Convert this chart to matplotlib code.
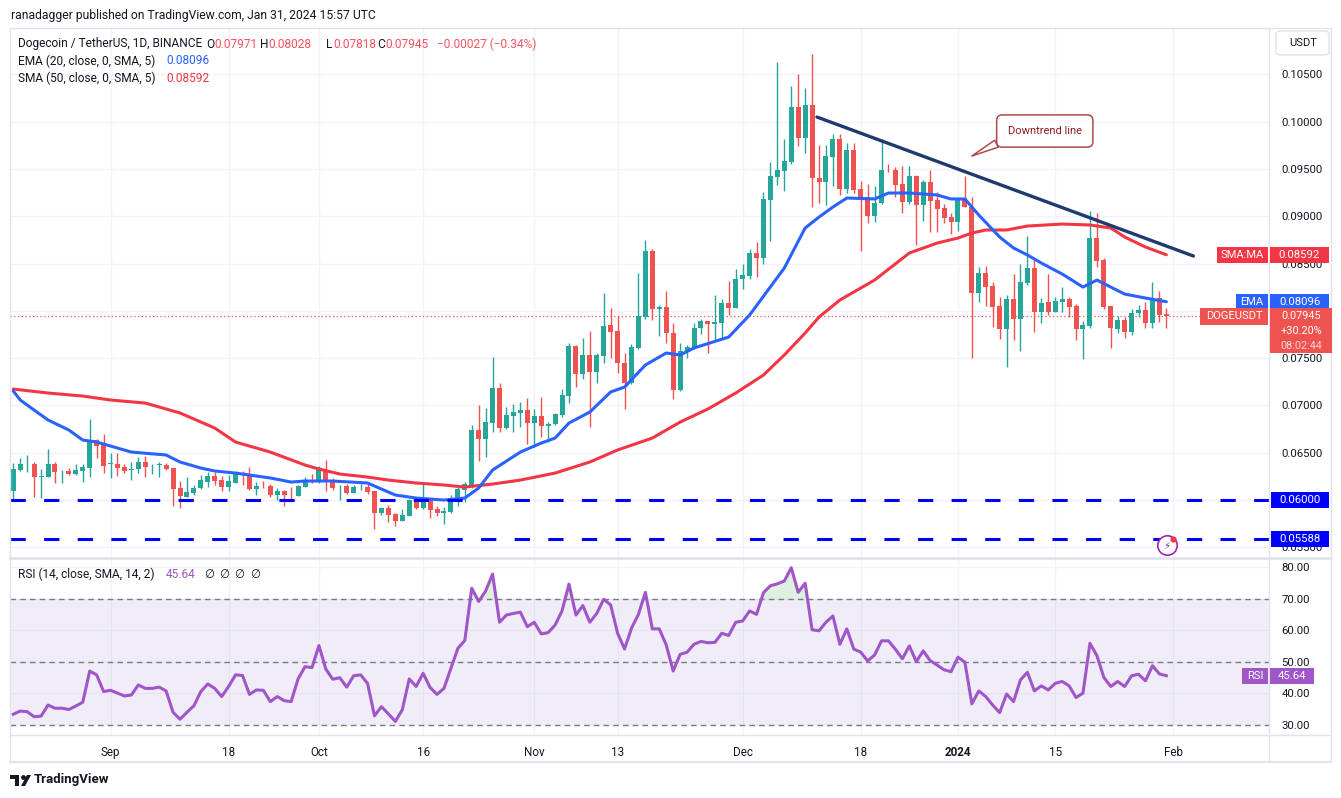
import numpy as np
import pandas as pd
import matplotlib
matplotlib.use("Agg")
import matplotlib.pyplot as plt
import matplotlib.dates as mdates
from matplotlib.patches import Rectangle, FancyBboxPatch, Polygon
from matplotlib.lines import Line2D
from matplotlib.ticker import FormatStrFormatter

plt.rcParams['font.family'] = ['Roboto', 'DejaVu Sans']

# ---- data (DOGE/USDT daily) ----
start_date = '2023-08-18'
opens = [0.06098, 0.06317, 0.06381, 0.06381, 0.06243, 0.06243, 0.06381, 0.06307, 0.06307, 0.06275,
         0.06307, 0.06338, 0.06634, 0.06581, 0.06386, 0.06381, 0.06349, 0.06322, 0.06328, 0.06402,
         0.06359, 0.06375, 0.06370, 0.06338, 0.06127, 0.06032, 0.06074, 0.06127, 0.06190, 0.06254,
         0.06211, 0.06141, 0.06183, 0.06275, 0.06264, 0.06116, 0.06143, 0.06148, 0.06053, 0.06095,
         0.06063, 0.06042, 0.06141, 0.06201, 0.06193, 0.06317, 0.06201, 0.06145, 0.06148, 0.06077,
         0.06137, 0.06134, 0.06095, 0.05866, 0.05912, 0.05852, 0.05781, 0.05834, 0.05989, 0.05919,
         0.06000, 0.05902, 0.05859, 0.05876, 0.05982, 0.06106, 0.06159, 0.06740, 0.06645, 0.06811,
         0.07187, 0.06764, 0.06891, 0.06923, 0.06951, 0.06817, 0.06888, 0.06785, 0.06800, 0.06898,
         0.07102, 0.07631, 0.07329, 0.07533, 0.07350, 0.07525, 0.07850, 0.07786, 0.07445, 0.07234,
         0.07610, 0.07937, 0.08632, 0.08016, 0.08043, 0.07762, 0.07163, 0.07568, 0.07610, 0.07815,
         0.07892, 0.07857, 0.07874, 0.08086, 0.08033, 0.08333, 0.08371, 0.08614, 0.08561, 0.09171,
         0.09417, 0.09481, 0.09576, 0.10157, 0.09830, 0.10175, 0.09400, 0.09365, 0.09629, 0.09813,
         0.09287, 0.09700, 0.09284, 0.09200, 0.09002, 0.09136, 0.09488, 0.09488, 0.09340, 0.09153,
         0.09425, 0.09118, 0.09365, 0.09171, 0.09090, 0.08995, 0.08942, 0.09195, 0.09100, 0.08191,
         0.08396, 0.08262, 0.08051, 0.07807, 0.08121, 0.07910, 0.08297, 0.08455, 0.07990, 0.08096,
         0.07990, 0.08096, 0.08125, 0.08051, 0.07804, 0.07842, 0.08773, 0.08537, 0.08051, 0.07807,
         0.07903, 0.07779, 0.07973, 0.08008, 0.07874, 0.08132, 0.07971]
highs = [0.06391, 0.06444, 0.06476, 0.06402, 0.06328, 0.06539, 0.06402, 0.06317, 0.06338, 0.06381,
         0.06381, 0.06856, 0.06645, 0.06698, 0.06497, 0.06497, 0.06381, 0.06402, 0.06455, 0.06465,
         0.06381, 0.06402, 0.06391, 0.06338, 0.06201, 0.06243, 0.06159, 0.06264, 0.06296, 0.06299,
         0.06254, 0.06264, 0.06310, 0.06307, 0.06352, 0.06190, 0.06204, 0.06169, 0.06127, 0.06106,
         0.06137, 0.06159, 0.06246, 0.06275, 0.06359, 0.06423, 0.06233, 0.06159, 0.06169, 0.06159,
         0.06169, 0.06169, 0.06095, 0.05923, 0.05947, 0.05863, 0.05905, 0.06007, 0.06000, 0.06183,
         0.06021, 0.05937, 0.05929, 0.06053, 0.06151, 0.06193, 0.06793, 0.07004, 0.06969, 0.07508,
         0.07234, 0.06980, 0.07015, 0.07033, 0.07081, 0.06962, 0.07089, 0.06821, 0.06916, 0.07173,
         0.07656, 0.07638, 0.07709, 0.07786, 0.07557, 0.08185, 0.08026, 0.07945, 0.07551, 0.07649,
         0.08403, 0.08748, 0.08650, 0.08061, 0.08212, 0.07874, 0.07656, 0.07638, 0.07868, 0.07910,
         0.07892, 0.08167, 0.08121, 0.08318, 0.08442, 0.08500, 0.08650, 0.08730, 0.09252, 0.09570,
         0.10633, 0.09816, 0.10376, 0.10503, 0.10358, 0.10714, 0.09752, 0.09752, 0.09869, 0.09865,
         0.09770, 0.09777, 0.09375, 0.09340, 0.09319, 0.09813, 0.09552, 0.09523, 0.09530, 0.09530,
         0.09435, 0.09382, 0.09488, 0.09259, 0.09129, 0.09030, 0.09200, 0.09425, 0.09200, 0.08466,
         0.08473, 0.08307, 0.08143, 0.08167, 0.08389, 0.08500, 0.08794, 0.08537, 0.08132, 0.08389,
         0.08149, 0.08248, 0.08149, 0.08072, 0.07895, 0.09055, 0.09030, 0.08555, 0.08051, 0.07945,
         0.07931, 0.08019, 0.08061, 0.08096, 0.08301, 0.08209, 0.08028]
lows = [0.06000, 0.06307, 0.06296, 0.06032, 0.06021, 0.06243, 0.06180, 0.06180, 0.06264, 0.06264,
        0.06190, 0.06243, 0.06444, 0.06285, 0.06233, 0.06254, 0.06285, 0.06211, 0.06285, 0.06243,
        0.06275, 0.06243, 0.06317, 0.05937, 0.05915, 0.06032, 0.06053, 0.06116, 0.06137, 0.06159,
        0.06095, 0.06095, 0.06183, 0.06159, 0.06106, 0.06053, 0.06127, 0.06035, 0.06000, 0.05940,
        0.06011, 0.06042, 0.06137, 0.06180, 0.06180, 0.06095, 0.06106, 0.06000, 0.06063, 0.06077,
        0.06106, 0.06063, 0.05690, 0.05841, 0.05771, 0.05725, 0.05781, 0.05834, 0.05905, 0.05902,
        0.05813, 0.05834, 0.05743, 0.05866, 0.05937, 0.05982, 0.06124, 0.06412, 0.06458, 0.06722,
        0.06722, 0.06750, 0.06722, 0.06775, 0.06589, 0.06563, 0.06663, 0.06616, 0.06793, 0.06880,
        0.07028, 0.07198, 0.07276, 0.06775, 0.07240, 0.07445, 0.07504, 0.07346, 0.06959, 0.07223,
        0.07596, 0.07910, 0.07903, 0.07737, 0.07663, 0.07064, 0.07155, 0.07498, 0.07596, 0.07751,
        0.07551, 0.07684, 0.07709, 0.07955, 0.08033, 0.08227, 0.08333, 0.08360, 0.08495, 0.08738,
        0.09330, 0.09269, 0.09552, 0.09745, 0.09665, 0.09100, 0.09139, 0.09118, 0.09319, 0.09224,
        0.09242, 0.09242, 0.08635, 0.08925, 0.08942, 0.09126, 0.09470, 0.09200, 0.09030, 0.09129,
        0.08695, 0.08952, 0.08836, 0.08836, 0.08925, 0.08812, 0.08847, 0.09100, 0.07498, 0.08096,
        0.08054, 0.07832, 0.07699, 0.07409, 0.07691, 0.07578, 0.08273, 0.07779, 0.07868, 0.07955,
        0.07984, 0.07990, 0.07937, 0.07691, 0.07487, 0.07821, 0.08466, 0.08016, 0.07603, 0.07762,
        0.07709, 0.07744, 0.07937, 0.07815, 0.07815, 0.07885, 0.07818]
closes = [0.06328, 0.06381, 0.06386, 0.06243, 0.06254, 0.06381, 0.06296, 0.06312, 0.06275, 0.06317,
          0.06349, 0.06634, 0.06571, 0.06359, 0.06391, 0.06338, 0.06307, 0.06328, 0.06402, 0.06349,
          0.06365, 0.06386, 0.06328, 0.06116, 0.06042, 0.06085, 0.06127, 0.06211, 0.06254, 0.06201,
          0.06141, 0.06201, 0.06272, 0.06264, 0.06116, 0.06148, 0.06137, 0.06053, 0.06095, 0.06053,
          0.06060, 0.06148, 0.06211, 0.06198, 0.06317, 0.06187, 0.06130, 0.06148, 0.06071, 0.06134,
          0.06141, 0.06081, 0.05866, 0.05912, 0.05841, 0.05781, 0.05841, 0.06000, 0.05919, 0.06000,
          0.05894, 0.05859, 0.05884, 0.06000, 0.06116, 0.06169, 0.06740, 0.06645, 0.06821, 0.07187,
          0.06764, 0.06898, 0.06933, 0.06951, 0.06817, 0.06888, 0.06785, 0.06803, 0.06909, 0.07110,
          0.07631, 0.07329, 0.07533, 0.07350, 0.07533, 0.07839, 0.07779, 0.07445, 0.07234, 0.07620,
          0.07945, 0.08632, 0.08016, 0.08043, 0.07762, 0.07163, 0.07575, 0.07614, 0.07821, 0.07895,
          0.07857, 0.07885, 0.08086, 0.08033, 0.08336, 0.08378, 0.08614, 0.08561, 0.09182, 0.09428,
          0.09488, 0.09583, 0.10157, 0.09830, 0.10175, 0.09400, 0.09365, 0.09636, 0.09813, 0.09287,
          0.09700, 0.09277, 0.09189, 0.09002, 0.09136, 0.09488, 0.09485, 0.09330, 0.09153, 0.09425,
          0.09118, 0.09365, 0.09164, 0.09076, 0.08984, 0.08942, 0.09195, 0.09100, 0.08191, 0.08396,
          0.08255, 0.08043, 0.07807, 0.08121, 0.07910, 0.08307, 0.08455, 0.07990, 0.08079, 0.07990,
          0.08103, 0.08125, 0.08043, 0.07804, 0.07850, 0.08773, 0.08530, 0.08037, 0.07815, 0.07903,
          0.07779, 0.07973, 0.08008, 0.07874, 0.08125, 0.07955, 0.07945]

# EMA 20 and SMA 50, read at sample days (day number from start_date)
ema_day = [0, 1, 3, 5, 8, 10, 12, 17, 22, 24, 27, 29, 32, 37, 40, 42, 46, 51, 53, 55, 58, 62, 65, 67,
           69, 73, 76, 78, 80, 83, 86, 88, 91, 94, 96, 98, 103, 106, 111, 114, 116, 118, 120, 124,
           126, 129, 133, 135, 137, 139, 142, 144, 146, 148, 151, 154, 156, 158, 160, 163, 166]
ema_vals = [0.07152, 0.07057, 0.06951, 0.06846, 0.06740, 0.06634, 0.06613, 0.06507, 0.06476, 0.06402,
            0.06338, 0.06307, 0.06285, 0.06233, 0.06190, 0.06201, 0.06201, 0.06180, 0.06116, 0.06053,
            0.06021, 0.06000, 0.06021, 0.06127, 0.06317, 0.06507, 0.06602, 0.06655, 0.06814, 0.06930,
            0.07142, 0.07194, 0.07427, 0.07554, 0.07533, 0.07607, 0.07723, 0.07955, 0.08452, 0.08875,
            0.08991, 0.09097, 0.09192, 0.09182, 0.09245, 0.09245, 0.09224, 0.09182, 0.09182, 0.09012,
            0.08780, 0.08664, 0.08590, 0.08505, 0.08389, 0.08251, 0.08325, 0.08251, 0.08177, 0.08135,
            0.08096]
sma_day = [0, 5, 10, 14, 19, 24, 29, 32, 37, 42, 44, 47, 51, 54, 58, 62, 65, 69, 73, 78, 83, 87, 92,
           96, 100, 104, 108, 111, 114, 116, 119, 124, 129, 133, 136, 138, 140, 143, 146, 151, 155,
           158, 160, 163, 166]
sma_vals = [0.07173, 0.07131, 0.07099, 0.07057, 0.07025, 0.06920, 0.06761, 0.06613, 0.06507, 0.06370,
            0.06328, 0.06275, 0.06243, 0.06211, 0.06180, 0.06159, 0.06137, 0.06169, 0.06211, 0.06285,
            0.06402, 0.06529, 0.06655, 0.06824, 0.06962, 0.07131, 0.07321, 0.07533, 0.07765, 0.07934,
            0.08114, 0.08325, 0.08611, 0.08716, 0.08769, 0.08822, 0.08854, 0.08854, 0.08896, 0.08917,
            0.08907, 0.08875, 0.08780, 0.08674, 0.08592]

rsi = [33.4, 34.4, 34.2, 32.6, 32.8, 36.3, 35.3, 35.3, 34.9, 36.0,
       37.2, 47.1, 45.9, 40.6, 41.0, 40.1, 39.2, 39.5, 42.7, 41.6,
       41.6, 42.0, 40.8, 34.0, 31.8, 34.0, 36.1, 40.6, 43.0, 41.6,
       39.0, 42.2, 45.9, 45.7, 39.7, 41.1, 41.0, 37.4, 39.0, 37.7,
       37.4, 44.6, 48.5, 48.2, 55.2, 47.7, 44.5, 45.0, 42.0, 45.6,
       45.9, 43.2, 32.9, 35.8, 33.5, 31.1, 34.8, 44.6, 42.2, 46.4,
       41.9, 39.7, 41.6, 48.0, 54.3, 56.8, 73.4, 69.2, 72.5, 77.9,
       62.6, 64.9, 65.4, 65.8, 61.2, 62.6, 58.9, 59.3, 61.7, 66.2,
       74.7, 64.9, 67.9, 62.6, 65.4, 69.9, 68.1, 59.1, 54.1, 60.7,
       65.1, 72.1, 60.5, 60.5, 55.4, 47.1, 52.4, 53.1, 55.6, 56.5,
       56.1, 56.2, 59.1, 58.4, 62.6, 63.0, 66.2, 65.1, 72.0, 74.2,
       74.8, 75.7, 79.9, 72.1, 75.0, 60.2, 59.9, 62.6, 64.6, 55.6,
       60.5, 54.1, 53.1, 50.3, 52.2, 56.7, 56.7, 54.0, 51.0, 55.1,
       50.1, 53.5, 50.4, 49.0, 47.5, 46.9, 51.5, 49.9, 36.7, 40.8,
       39.0, 36.3, 33.9, 39.8, 37.4, 44.3, 46.7, 40.8, 42.4, 41.1,
       43.2, 43.8, 42.4, 38.7, 40.1, 55.9, 52.0, 45.1, 42.2, 43.8,
       42.2, 45.6, 46.1, 44.0, 48.8, 46.2, 45.64]

support_levels = [0.06000, 0.05588]
trend_day = [115.7, 169.9]
trend_price = [0.10048, 0.08579]

tick_dates = ['2023-09-01', '2023-09-18', '2023-10-01', '2023-10-16', '2023-11-01', '2023-11-13',
              '2023-12-01', '2023-12-18', '2024-01-01', '2024-01-15', '2024-02-01']
tick_labels = ['Sep', '18', 'Oct', '16', 'Nov', '13', 'Dec', '18', '2024', '15', 'Feb']
price_ticks = [0.055, 0.060, 0.065, 0.070, 0.075, 0.080, 0.085, 0.090, 0.095, 0.100, 0.105]
hidden_ticks = [0.060, 0.080]   # covered by the price tags on the axis

# ---- colours ----
UP, DOWN = '#26a69a', '#ef5350'
EMA_C, SMA_C = '#2962ff', '#f23645'
RSI_C = '#a056c8'
GRID = '#f0f3fa'
FRAME = '#e0e3eb'
TXT = '#131722'

W, H = 1341, 798
fig = plt.figure(figsize=(W / 100, H / 100), dpi=100)
fig.patch.set_facecolor('white')

def fx(px):
    return px / W

def fy(py):
    return 1 - py / H

L, R = 10, 1269
ax = fig.add_axes([fx(L), fy(557), (R - L) / W, (557 - 28) / H])
axr = fig.add_axes([fx(L), fy(735), (R - L) / W, (735 - 558) / H], sharex=ax)

t0 = mdates.date2num(pd.Timestamp(start_date))
n = len(opens)
x = t0 + np.arange(n)
o, h, l, c = map(np.array, (opens, highs, lows, closes))
up = c >= o
cols = np.where(up, UP, DOWN)

# candles
ax.vlines(x, l, h, colors=cols, lw=1.0, zorder=3)
body_lo = np.minimum(o, c)
body_h = np.maximum(np.abs(c - o), 0.00003)
ax.bar(x, body_h, bottom=body_lo, width=0.72, color=cols, lw=0, zorder=4)

# moving averages
ax.plot(t0 + np.array(sma_day), sma_vals, color=SMA_C, lw=2.2, zorder=5, solid_capstyle='round')
ax.plot(t0 + np.array(ema_day), ema_vals, color=EMA_C, lw=2.2, zorder=5, solid_capstyle='round')

# support lines
for lvl in support_levels:
    ax.axhline(lvl, color='#0000ff', lw=2.2, ls=(0, (5, 6)), zorder=6)

# downtrend line
ax.plot(t0 + np.array(trend_day), trend_price, color='#1f3a6e', lw=2.4, zorder=6,
        solid_capstyle='round')

# last price dotted line
ax.axhline(closes[-1], color=DOWN, lw=0.9, ls=(0, (1, 2)), zorder=2)

# callout
ax.annotate('Downtrend line', xy=(t0 + 138.0, 0.09636), xytext=(t0 + 148.5, 0.0990),
            ha='center', va='center', fontsize=8, color='#8e1c1c', zorder=8,
            bbox=dict(boxstyle='round,pad=1.0,rounding_size=0.5', fc='white', ec='#b04848', lw=1.1),
            arrowprops=dict(arrowstyle='wedge,tail_width=0.7,shrink_factor=0.5', fc='white',
                            ec='#b04848', lw=1.1, relpos=(0.12, 0.25), shrinkA=0, shrinkB=0))

xlim = (t0 - 0.475, t0 + 180.78)
ax.set_xlim(*xlim)
ax.set_ylim(0.05398, 0.10989)
ax.set_yticks(price_ticks)
ax.set_yticklabels(['' if any(abs(v - hv) < 1e-9 for hv in hidden_ticks) else f'{v:.5f}'
                    for v in price_ticks])
ax.yaxis.tick_right()
ax.tick_params(axis='y', length=0, pad=9, labelsize=8.2, labelcolor=TXT)
ax.tick_params(axis='x', length=0, labelbottom=False)
tick_x = [mdates.date2num(pd.Timestamp(d)) for d in tick_dates]
ax.set_xticks(tick_x)
ax.grid(True, color=GRID, lw=1, zorder=0)
ax.set_axisbelow(True)
for s in ax.spines.values():
    s.set_visible(False)

# RSI panel
rsi_arr = np.array(rsi)
axr.axhspan(30, 70, color='#7e57c2', alpha=0.1, lw=0, zorder=1)
for lv in (70, 50, 30):
    axr.axhline(lv, color='#787b86', lw=1, ls=(0, (4, 3)), zorder=2)
axr.fill_between(x, rsi_arr, 70, where=rsi_arr >= 70, interpolate=True,
                 color='#4caf50', alpha=0.18, lw=0, zorder=2)
axr.plot(x, rsi_arr, color=RSI_C, lw=2.2, zorder=4)
axr.set_ylim(26.8, 83.0)
axr.set_yticks([30, 40, 50, 60, 70, 80])
axr.yaxis.set_major_formatter(FormatStrFormatter('%.2f'))
axr.yaxis.tick_right()
axr.tick_params(axis='y', length=0, pad=9, labelsize=8.2, labelcolor=TXT)
axr.set_xticks(tick_x)
axr.set_xticklabels(tick_labels)
axr.tick_params(axis='x', length=0, pad=8, labelsize=8.4, labelcolor=TXT)
for lbl in axr.get_xticklabels():
    if lbl.get_text() == '2024':
        lbl.set_fontweight('bold')
axr.grid(True, color=GRID, lw=1, zorder=0)
axr.set_axisbelow(True)
axr.set_xlim(*xlim)
for s in axr.spines.values():
    s.set_visible(False)

# ---- frame lines ----
for (xa, ya, xb, yb, lw) in [(10, 28, 1331, 28, 1), (10, 28, 10, 762, 1), (1331, 28, 1331, 762, 1),
                             (1269, 28, 1269, 762, 1), (10, 557.5, 1331, 557.5, 2),
                             (10, 735, 1331, 735, 1), (10, 762, 1331, 762, 1.5)]:
    fig.add_artist(Line2D([fx(xa), fx(xb)], [fy(ya), fy(yb)], color=FRAME, lw=lw,
                          transform=fig.transFigure, zorder=1))

def rect(x0, x1, y0, y1, face, z=10):
    fig.add_artist(Rectangle((fx(x0), fy(y1)), (x1 - x0) / W, (y1 - y0) / H,
                             transform=fig.transFigure, fc=face, ec='none', lw=0, zorder=z))

def label(px, py, s, **kw):
    kw.setdefault('va', 'center')
    kw.setdefault('fontsize', 8.6)
    kw.setdefault('color', TXT)
    fig.text(fx(px), fy(py), s, zorder=11, **kw)

def dot(px, py, size, face, edge='none', lw=0, z=10):
    fig.add_artist(Line2D([fx(px)], [fy(py)], marker='o', ms=size, mfc=face, mec=edge, mew=lw,
                          ls='none', transform=fig.transFigure, zorder=z))

def val_py(a, v):
    return H - a.transData.transform((xlim[0], v))[1]

# price-axis tags
py = val_py(ax, sma_vals[-1])
rect(1217, 1268, py - 8, py + 8.5, SMA_C)
label(1242.5, py, 'SMA:MA', ha='center', color='white', fontsize=8)
rect(1270, 1329, py - 8, py + 8.5, SMA_C)
label(1299.5, py, f'{sma_vals[-1]:.5f}', ha='center', color='white', fontsize=8.2)

py = val_py(ax, ema_vals[-1])
rect(1236, 1268, py - 8, py + 8.5, EMA_C)
label(1252, py, 'EMA', ha='center', color='white', fontsize=8)
rect(1270, 1329, py - 8, py + 8.5, EMA_C)
label(1299.5, py, f'{ema_vals[-1]:.5f}', ha='center', color='white', fontsize=8.2)

py = val_py(ax, closes[-1])
rect(1200, 1268, py - 8, py + 8.5, DOWN)
label(1234, py, 'DOGEUSDT', ha='center', color='white', fontsize=8)
rect(1270, 1332, py - 8, py + 37, DOWN)
label(1301, py - 0.5, f'{closes[-1]:.5f}', ha='center', color='white', fontsize=7.8)
label(1301, py + 14.5, '+30.20%', ha='center', color='white', fontsize=7.8)
label(1301, py + 29.5, '08:02:44', ha='center', color='#fbd3d2', fontsize=7.8)

for lvl in support_levels:
    py = val_py(ax, lvl)
    rect(1271, 1329, py - 8, py + 8, '#0000ff')
    label(1300, py, f'{lvl:.5f}', ha='center', color='white', fontsize=8.2)

py = val_py(axr, rsi[-1])
rect(1242, 1268, py - 8, py + 8, RSI_C)
label(1255, py, 'RSI', ha='center', color='white', fontsize=8)
rect(1270, 1314, py - 8, py + 8, RSI_C)
label(1292, py, f'{rsi[-1]:.2f}', ha='center', color='white', fontsize=8.2)

fig.add_artist(FancyBboxPatch((fx(1276), fy(55)), (1331 - 1276 - 2) / W, 24 / H,
                              boxstyle='round,pad=0,rounding_size=0.004', transform=fig.transFigure,
                              fc='white', ec=FRAME, lw=1, zorder=10))
label(1303, 43.5, 'USDT', ha='center', fontsize=8)

# ---- header and legend texts ----
label(11, 15, 'ranadagger published on TradingView.com, Jan 31, 2024 15:57 UTC', fontsize=8.7)
RED_T = '#f7525f'
for s, px_, col in [('Dogecoin / TetherUS, 1D, BINANCE', 18, TXT), ('O', 206, TXT),
                    ('0.07971', 214, RED_T), ('H', 260, TXT), ('0.08028', 268, RED_T),
                    ('L', 326, TXT), ('0.07818', 333, RED_T), ('C', 377, TXT),
                    ('0.07945', 385, RED_T), ('\u22120.00027 (\u22120.34%)', 437, RED_T)]:
    label(px_, 44, s, color=col)
label(18, 61, 'EMA (20, close, 0, SMA, 5)')
label(166, 61, f'{ema_vals[-1]:.5f}', color=EMA_C)
label(18, 78, 'SMA (50, close, 0, SMA, 5)')
label(166, 78, f'{sma_vals[-1]:.5f}', color=SMA_C)

label(18, 574, 'RSI (14, close, SMA, 14, 2)')
label(166, 574, f'{rsi[-1]:.2f}', color=RSI_C)
for px_ in (204, 219, 234, 250):
    label(px_, 574, '\u2205', fontsize=8.3)

# small alert icon
dot(1167, 545, 14, 'white', '#9c27b0', 1.2, z=9)
label(1167, 545.5, '\u26a1', ha='center', color='#9c27b0', fontsize=7.5, family=['DejaVu Sans'])
dot(1173, 539, 4.5, '#f23645')

# TradingView logo
fig.add_artist(Polygon([(fx(10), fy(775)), (fx(19), fy(775)), (fx(19), fy(786)), (fx(15), fy(786)),
                        (fx(15), fy(779)), (fx(10), fy(779))], closed=True,
                       transform=fig.transFigure, fc=TXT, ec='none'))
dot(22.5, 777, 3.5, TXT)
fig.add_artist(Polygon([(fx(21), fy(786)), (fx(25), fy(786)), (fx(31), fy(775)), (fx(27), fy(775))],
                       closed=True, transform=fig.transFigure, fc=TXT, ec='none'))
label(34, 780, 'TradingView', fontsize=9.5, fontweight='bold')

fig.savefig('out.png', dpi=100, facecolor='white')
